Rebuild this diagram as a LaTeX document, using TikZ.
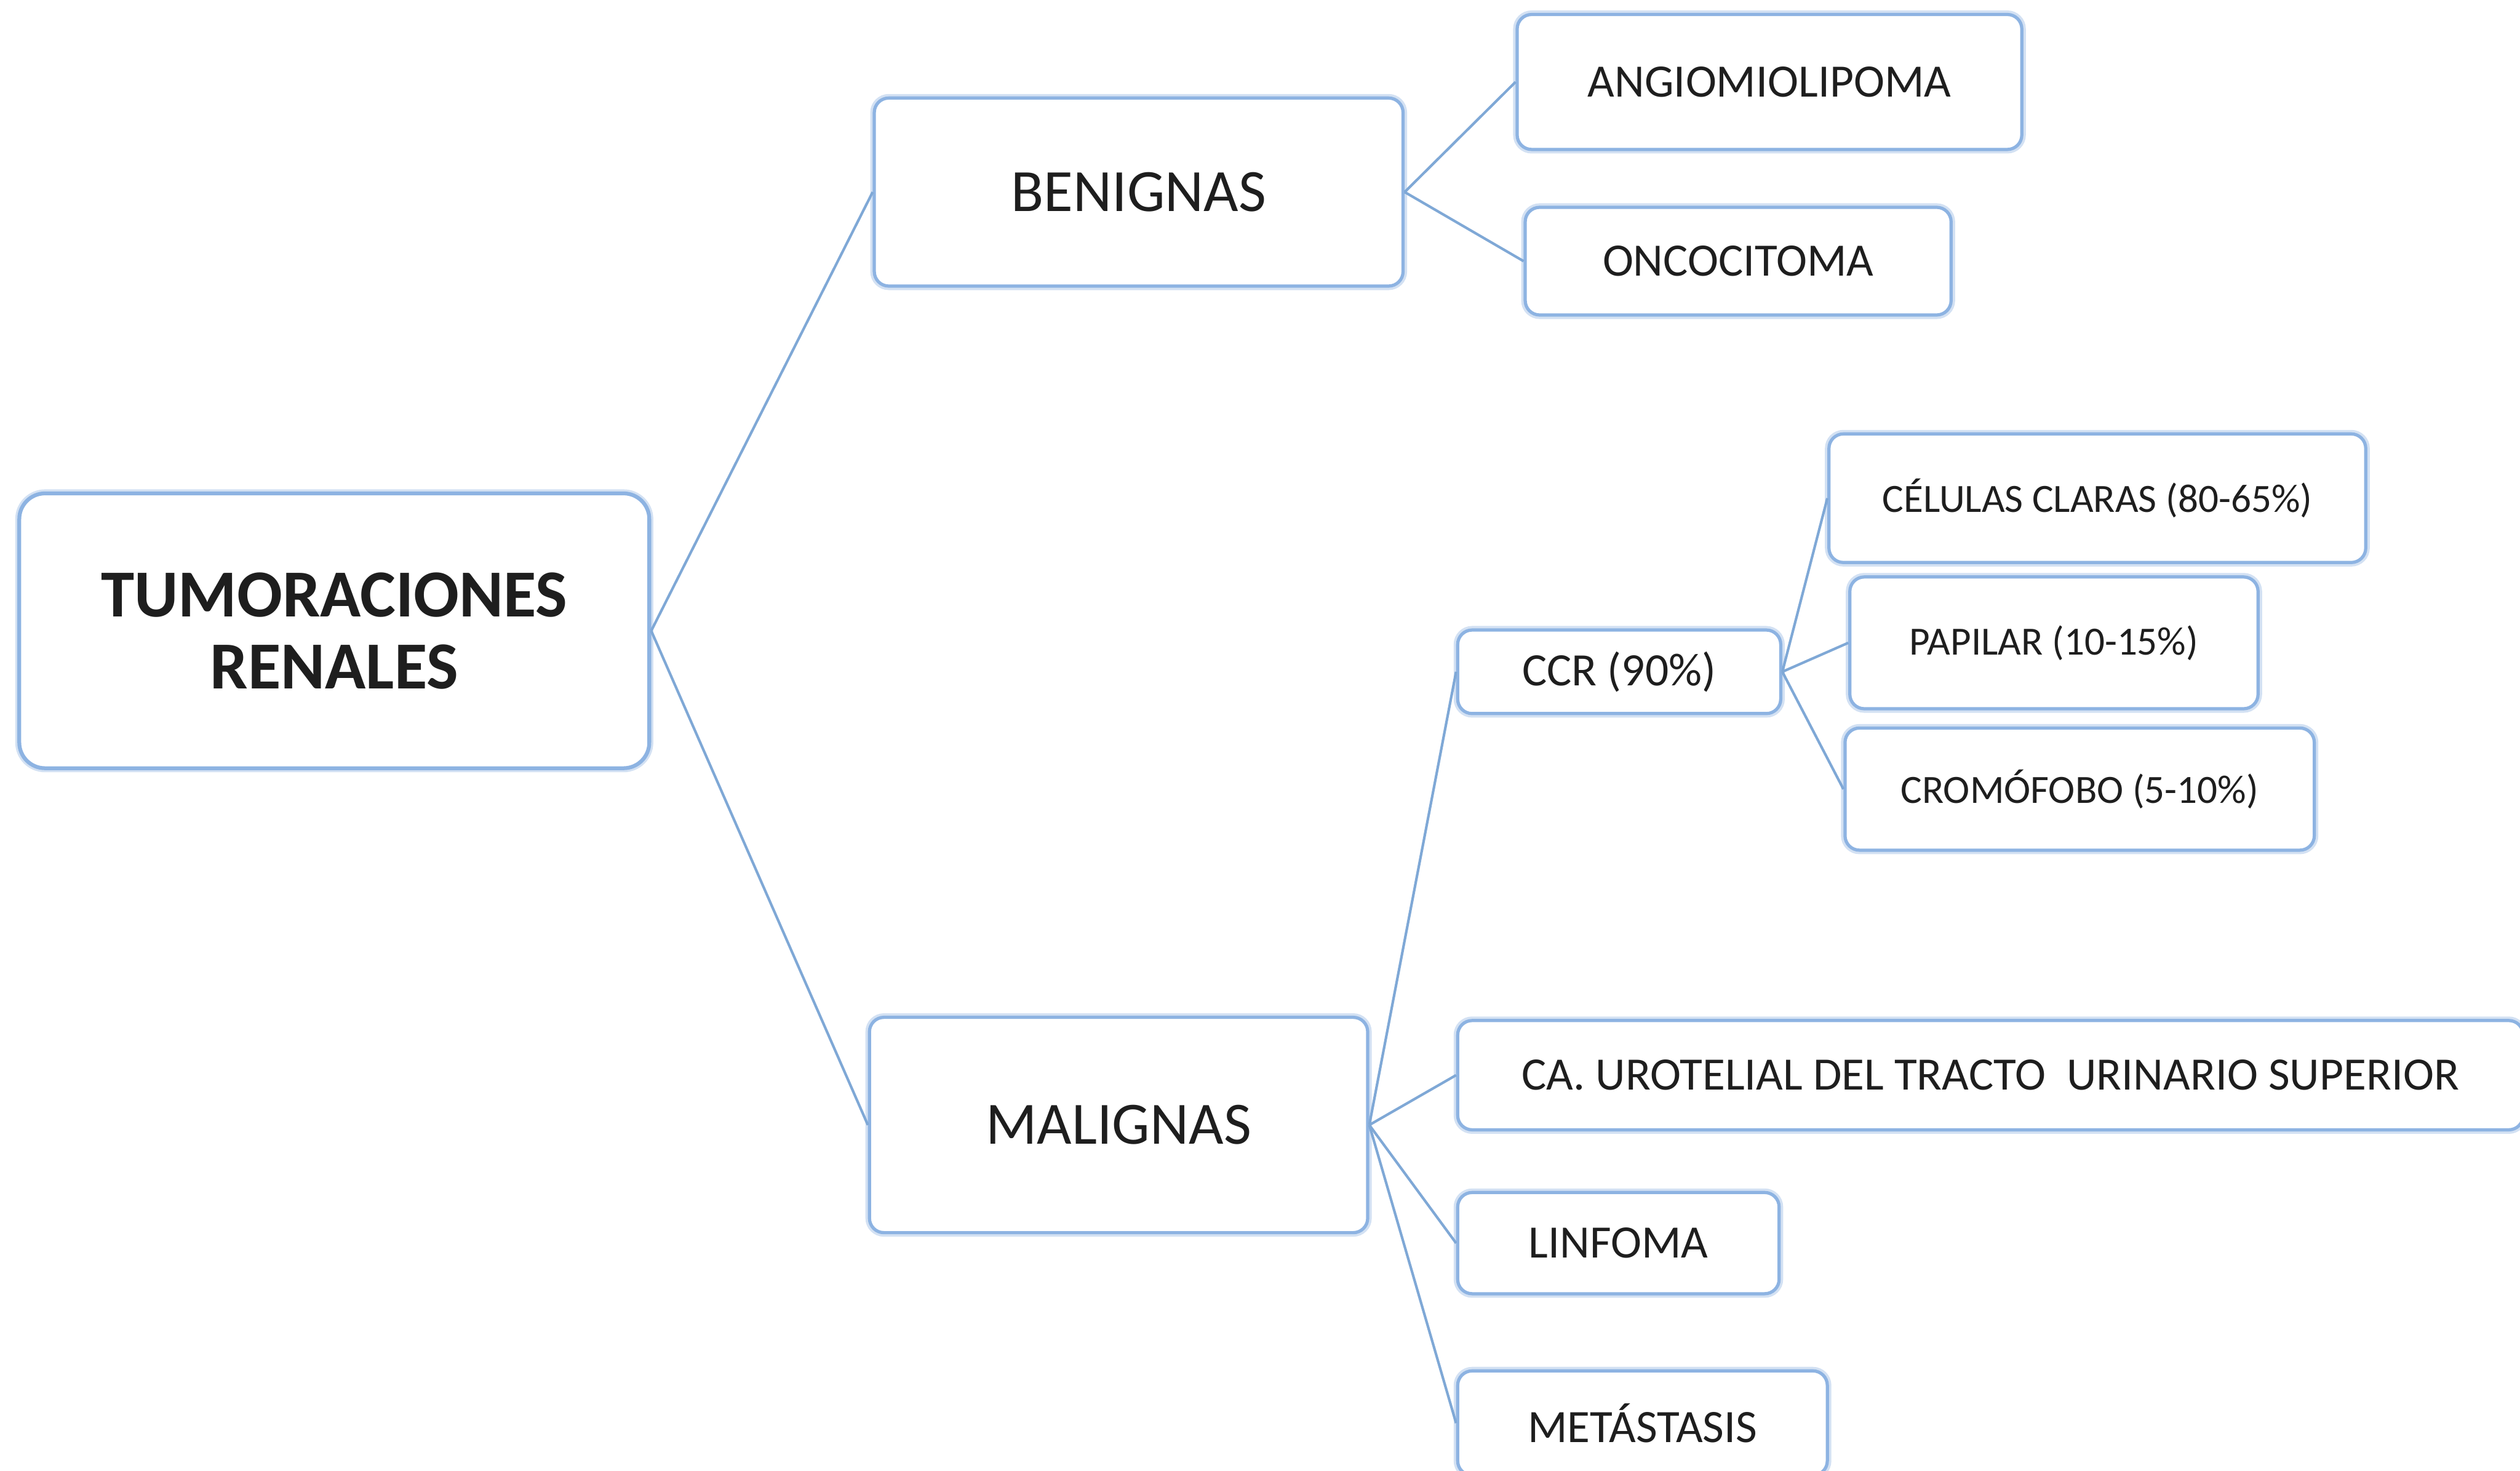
\documentclass[tikz,border=0pt]{standalone}
\usepackage{fontspec}
\setmainfont{Carlito}
\definecolor{boxblue}{HTML}{8DB3E2}
\definecolor{glowblue}{HTML}{D3E1F3}
\definecolor{lineblue}{HTML}{7FA8D6}
\definecolor{txt}{HTML}{1E1E1E}
\begin{document}
\begin{tikzpicture}[x=1bp,y=-1bp,
  tbox/.style={draw=boxblue, line width=2bp, rounded corners=9bp, fill=white,
    inner sep=0pt, align=center, text=txt,
    preaction={draw=glowblue, line width=5bp}},
  rootbox/.style={tbox, rounded corners=16bp, line width=2.4bp},
  lvlA/.style={font=\fontsize{37.5}{42}\selectfont},
  lvlB/.style={font=\fontsize{29}{33}\selectfont},
  lvlC/.style={font=\fontsize{25}{29}\selectfont},
  conn/.style={draw=lineblue, line width=1.6bp}]
\useasboundingbox (0,0) rectangle (1568,915);
\fill[white] (0,0) rectangle (1568,915);

\node[rootbox, minimum width=392bp, minimum height=171bp,
  font=\fontsize{42}{45}\selectfont\bfseries] (root) at (208,392.5) {TUMORACIONES\\RENALES};

\node[tbox, lvlA, minimum width=329bp, minimum height=117bp] (ben) at (708.5,119.5) {BENIGNAS};
\node[tbox, lvlA, minimum width=310bp, minimum height=134bp] (mal) at (696,700) {MALIGNAS};

\node[tbox, lvlB, minimum width=314bp, minimum height=84bp] (ang) at (1101,51) {ANGIOMIOLIPOMA};
\node[tbox, lvlB, minimum width=265bp, minimum height=67bp] (onc) at (1081.5,162.5) {ONCOCITOMA};

\node[tbox, lvlB, minimum width=201bp, minimum height=52bp] (ccr) at (1007.5,418) {CCR (90\%)};
\node[tbox, lvlB, minimum width=663bp, minimum height=68bp] (uro) at (1238.5,669) {CA. UROTELIAL DEL TRACTO\ \ URINARIO SUPERIOR};
\node[tbox, lvlB, minimum width=200bp, minimum height=63bp] (lin) at (1007,773.5) {LINFOMA};
\node[tbox, lvlB, minimum width=230bp, minimum height=65bp] (met) at (1022,885.5) {METÁSTASIS};

\node[tbox, lvlC, minimum width=334bp, minimum height=80bp] (cel) at (1305,310) {CÉLULAS CLARAS (80-65\%)};
\node[tbox, lvlC, minimum width=254bp, minimum height=82bp] (pap) at (1278,400) {PAPILAR (10-15\%)};
\node[tbox, lvlC, minimum width=292bp, minimum height=76bp] (cro) at (1294,491) {CROMÓFOBO (5-10\%)};

\draw[conn] (root.east) -- (ben.west);
\draw[conn] (root.east) -- (mal.west);
\draw[conn] (ben.east) -- (ang.west);
\draw[conn] (ben.east) -- (onc.west);
\draw[conn] (mal.east) -- (ccr.west);
\draw[conn] (mal.east) -- (uro.west);
\draw[conn] (mal.east) -- (lin.west);
\draw[conn] (mal.east) -- (met.west);
\draw[conn] (ccr.east) -- (cel.west);
\draw[conn] (ccr.east) -- (pap.west);
\draw[conn] (ccr.east) -- (cro.west);
\end{tikzpicture}
\end{document}
